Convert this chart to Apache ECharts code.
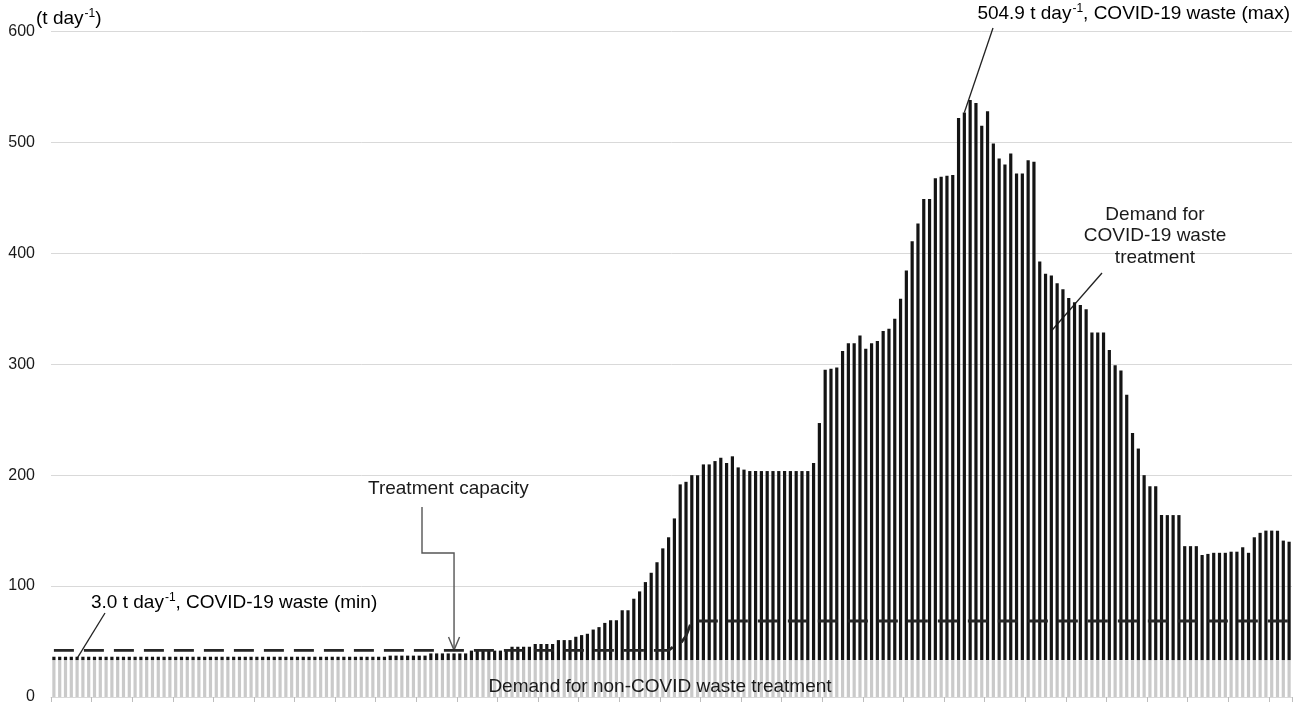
<!DOCTYPE html>
<html>
<head>
<meta charset="utf-8">
<script src="https://cdn.jsdelivr.net/npm/echarts@6/dist/echarts.min.js"></script>
<style>
  html, body { margin: 0; padding: 0; background: #ffffff; }
  #chart { width: 1296px; height: 705px; }
</style>
</head>
<body>
<div id="chart"></div>
<script>
// Daily demand for COVID-19 waste treatment (t/day), one value per day
const covidWaste = [
  3.0, 3.0, 3.0, 3.0, 3.0, 3.0, 3.0, 3.0, 3.0, 3.0,
  3.0, 3.0, 3.0, 3.0, 3.0, 3.0, 3.0, 3.0, 3.0, 3.0,
  3.0, 3.0, 3.0, 3.0, 3.0, 3.0, 3.0, 3.0, 3.0, 3.0,
  3.0, 3.0, 3.0, 3.0, 3.0, 3.0, 3.0, 3.0, 3.0, 3.0,
  3.0, 3.0, 3.0, 3.0, 3.0, 3.0, 3.0, 3.0, 3.0, 3.0,
  3.0, 3.0, 3.0, 3.0, 3.0, 3.0, 3.0, 3.0, 4.0, 4.0,
  4.0, 4.0, 4.0, 4.0, 4.0, 6.0, 6.0, 6.0, 6.0, 6.0,
  6.0, 6.0, 8.5, 8.5, 8.5, 8.5, 8.5, 8.5, 8.5, 12.0,
  12.0, 12.0, 12.0, 14.5, 14.5, 14.5, 14.5, 18.0, 18.0, 18.0,
  21.0, 22.5, 23.7, 27.5, 29.7, 33.5, 35.9, 35.9, 44.9, 44.9,
  55.3, 61.9, 70.3, 78.7, 88.2, 100.7, 110.7, 127.7, 158.4, 160.7,
  166.7, 166.7, 176.4, 176.4, 179.4, 182.4, 177.7, 183.7, 173.7, 171.7,
  170.4, 170.4, 170.4, 170.4, 170.4, 170.4, 170.4, 170.4, 170.4, 170.4,
  170.4, 177.7, 213.7, 261.7, 262.7, 263.7, 278.7, 285.7, 285.7, 292.7,
  280.7, 285.7, 287.7, 296.7, 298.7, 307.7, 325.7, 351.3, 377.7, 393.7,
  415.7, 415.7, 434.4, 435.7, 436.7, 437.4, 488.7, 493.7, 504.9, 502.3,
  481.7, 494.7, 465.7, 452.3, 446.7, 456.7, 438.7, 438.7, 450.7, 449.3,
  359.3, 348.3, 346.7, 339.7, 334.4, 326.5, 322.7, 320.2, 316.3, 295.3,
  295.3, 295.3, 279.5, 265.7, 261.0, 239.2, 204.7, 190.7, 166.7, 156.7,
  156.7, 130.7, 130.7, 130.7, 130.7, 102.7, 102.7, 102.7, 94.7, 95.7,
  96.7, 96.7, 96.7, 97.7, 97.7, 101.7, 96.7, 110.7, 114.7, 116.7,
  116.7, 116.7, 107.7, 106.7
];

// Daily demand for non-COVID waste treatment (t/day), constant over the period
const nonCovidDemand = 33.3;

// Treatment capacity (t/day) as [day index, value] points
const capacityPoints = [
  [0, 42], [106, 42], [107, 46], [108, 48], [109, 55], [110, 68.5], [213, 68.5]
];

// Value axis
const yMin = 0, yMax = 600, yStep = 100;

const days = covidWaste.map((_, i) => 'Day ' + (i + 1));
const nonCovidSeries = covidWaste.map(() => nonCovidDemand);

const FONT = '"Liberation Sans", Arial, Helvetica, sans-serif';
const INK = '#1a1a1a';

const chart = echarts.init(document.getElementById('chart'), null, { renderer: 'canvas' });

chart.setOption({
  animation: false,
  backgroundColor: '#ffffff',
  grid: { left: 51, right: 4, top: 31.5, bottom: 4.5, containLabel: false },
  xAxis: {
    type: 'category',
    data: days,
    boundaryGap: true,
    axisLine: { show: true, lineStyle: { color: '#d9d9d9', width: 1 } },
    axisTick: { show: true, interval: 6, length: 5, lineStyle: { color: '#bdbdbd', width: 1 } },
    axisLabel: { show: false },
    splitLine: { show: false }
  },
  yAxis: {
    type: 'value',
    min: yMin,
    max: yMax,
    interval: yStep,
    axisLine: { show: false },
    axisTick: { show: false },
    axisLabel: {
      color: INK, fontSize: 16, fontFamily: FONT, margin: 16,
      verticalAlign: 'middle',
      verticalAlignMinLabel: 'middle',
      verticalAlignMaxLabel: 'middle'
    },
    splitLine: { lineStyle: { color: '#d9d9d9', width: 1 } }
  },
  series: [
    {
      name: 'Demand for non-COVID waste treatment',
      type: 'bar',
      stack: 'demand',
      data: nonCovidSeries,
      barWidth: 3.2,
      itemStyle: { color: '#cacaca' },
      silent: true
    },
    {
      name: 'Demand for COVID-19 waste treatment',
      type: 'bar',
      stack: 'demand',
      data: covidWaste,
      barWidth: 3.2,
      itemStyle: { color: '#141414' },
      silent: true
    },
    {
      name: 'Treatment capacity',
      type: 'line',
      data: capacityPoints,
      symbol: 'none',
      z: 5,
      lineStyle: { color: '#262626', width: 2.8, type: [20, 10] },
      silent: true
    }
  ]
});

// Annotations: texts placed in the layout, leader lines anchored to data positions
const px = (i, v) => chart.convertToPixel({ gridIndex: 0 }, [i, v]);

const textStyle = (extra) => Object.assign({
  font: '19px ' + FONT,
  fill: INK
}, extra);

const supRich = {
  a: { fontSize: 19, fontFamily: FONT, color: INK, lineHeight: 22 },
  s: { fontSize: 12, fontFamily: FONT, color: INK, verticalAlign: 'top', lineHeight: 22, padding: [0, 0, 0, 1] }
};

const maxEnd = px(156.7, 527);
const covidEnd = px(172.1, 330);
const capTip = px(68.8, 42.3);
const minEnd = px(3.8, 34.8);

const graphics = [
  // unit label of the value axis
  {
    type: 'text', left: 36, top: 8,
    style: { text: '{a|(t day}{s|-1}{a|)}', rich: supRich }
  },
  // maximum annotation
  {
    type: 'text', right: 6, top: 3,
    style: { text: '{a|504.9 t day}{s|-1}{a|, COVID-19 waste (max)}', rich: supRich }
  },
  {
    type: 'line', shape: { x1: 993, y1: 28, x2: maxEnd[0], y2: maxEnd[1] },
    style: { stroke: '#222', lineWidth: 1.3 }
  },
  // COVID-19 waste demand annotation
  {
    type: 'text', x: 1155, y: 236,
    style: textStyle({ text: 'Demand for\nCOVID-19 waste\ntreatment', align: 'center', verticalAlign: 'middle', lineHeight: 21.5 })
  },
  {
    type: 'line', shape: { x1: 1102, y1: 273, x2: covidEnd[0], y2: covidEnd[1] },
    style: { stroke: '#222', lineWidth: 1.3 }
  },
  // treatment capacity annotation
  {
    type: 'text', x: 368, y: 489,
    style: textStyle({ text: 'Treatment capacity', align: 'left', verticalAlign: 'middle' })
  },
  {
    type: 'polyline',
    shape: { points: [[422, 507], [422, 553], [capTip[0], 553], [capTip[0], capTip[1]]] },
    style: { stroke: '#555', lineWidth: 1.4, fill: null }
  },
  {
    type: 'polyline',
    shape: { points: [[capTip[0] - 5.5, capTip[1] - 13], [capTip[0], capTip[1]], [capTip[0] + 5.5, capTip[1] - 13]] },
    style: { stroke: '#555', lineWidth: 1.4, fill: null }
  },
  // minimum annotation
  {
    type: 'text', left: 91, top: 592,
    style: { text: '{a|3.0 t day}{s|-1}{a|, COVID-19 waste (min)}', rich: supRich }
  },
  {
    type: 'line', shape: { x1: 105, y1: 613, x2: minEnd[0], y2: minEnd[1] },
    style: { stroke: '#222', lineWidth: 1.3 }
  },
  // non-COVID demand label over the grey bars
  {
    type: 'text', x: 660, y: 687, z: 10,
    style: textStyle({ text: 'Demand for non-COVID waste treatment', align: 'center', verticalAlign: 'middle' })
  }
];

chart.setOption({ graphic: graphics });
</script>
</body>
</html>
